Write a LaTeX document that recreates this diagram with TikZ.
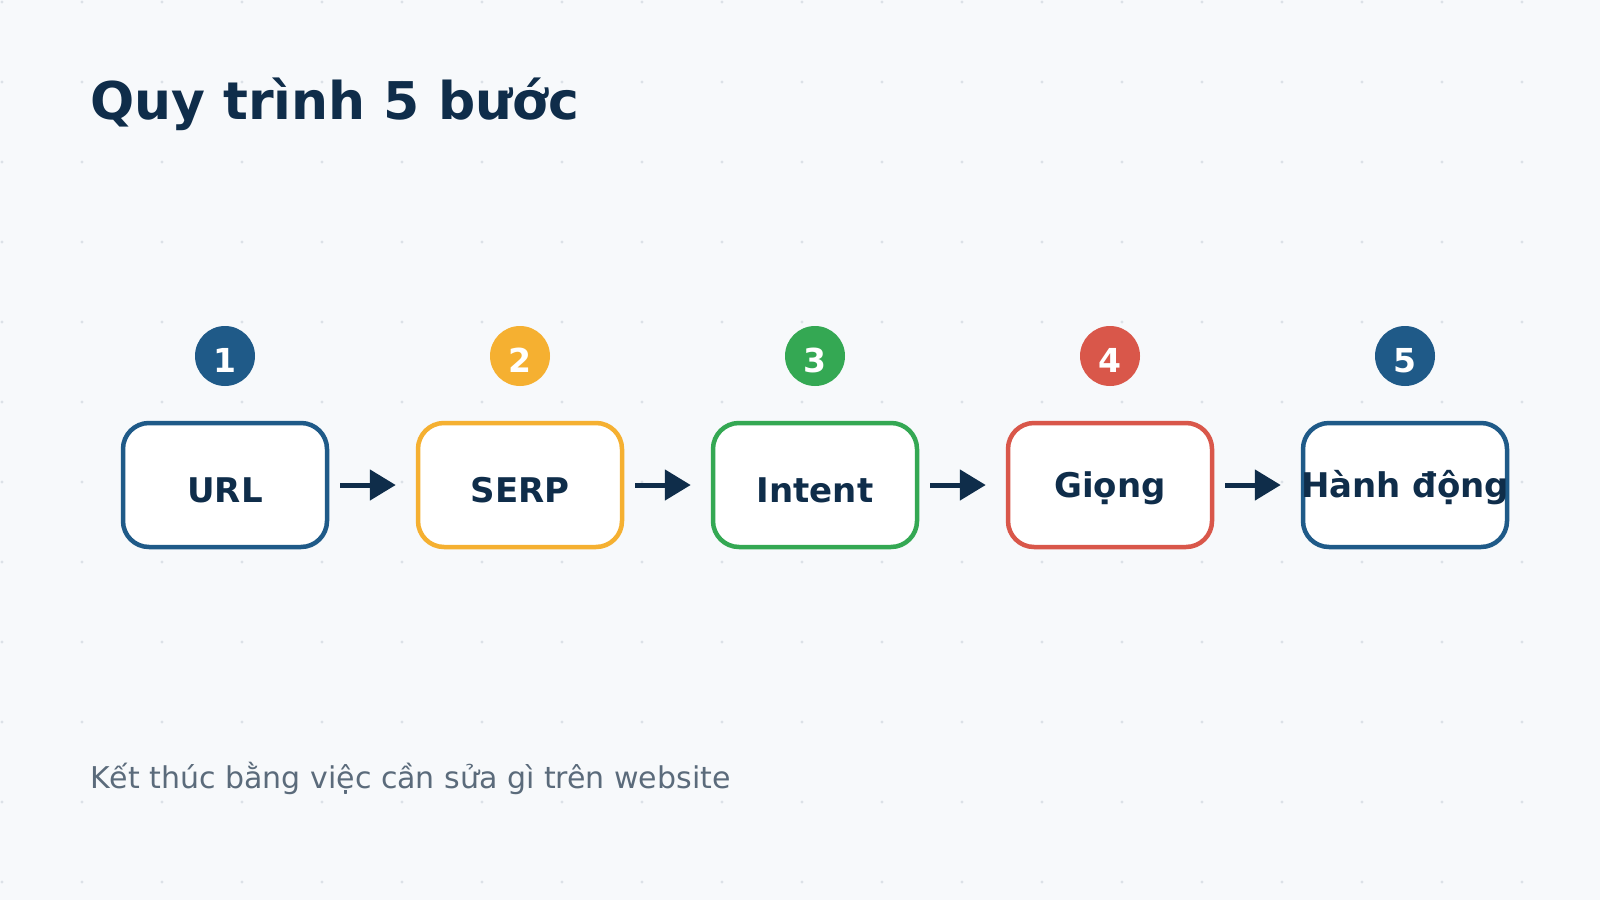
\documentclass[tikz,border=0pt]{standalone}
\usepackage{fontspec}
\setmainfont{DejaVu Sans}
\usetikzlibrary{arrows.meta}

\definecolor{bg}{HTML}{F7F9FB}
\definecolor{dotc}{HTML}{DCE1E7}
\definecolor{ink}{HTML}{0F2D4A}
\definecolor{muted}{HTML}{5B6B7B}
\definecolor{stepblue}{HTML}{1F5A88}
\definecolor{stepyellow}{HTML}{F5B031}
\definecolor{stepgreen}{HTML}{34A853}
\definecolor{stepred}{HTML}{D9574A}

\begin{document}
\begin{tikzpicture}[
    x=1pt, y=-1pt,
    stepbox/.style={
        draw=#1, line width=4.5pt, fill=white,
        rounded corners=26pt,
        minimum width=204pt, minimum height=124pt, inner sep=0pt,
        font=\fontsize{34}{40}\selectfont\bfseries, text=ink,
        text height=34pt, text depth=0pt
    },
    low/.style={text height=24pt},
    badge/.style={
        circle, fill=#1, minimum size=60pt, inner sep=0pt,
        font=\fontsize{33}{38}\selectfont\bfseries, text=white,
        text height=32pt, text depth=0pt
    },
    flow/.style={
        -{Triangle[length=26pt,width=30pt]}, line width=5pt, draw=ink,
        shorten <=11pt, shorten >=20pt
    }
    ]

    % background with dot grid
    \fill[bg] (0,0) rectangle (1600,900);
    \useasboundingbox (0,0) rectangle (1600,900);
    \foreach \i in {0,...,19}
        \foreach \j in {0,...,11}
            \fill[dotc] (2+80*\i,2+80*\j) circle (1.7pt);

    \node[anchor=base west, inner sep=0pt, text=ink,
        font=\fontsize{52}{60}\selectfont\bfseries] (title) at (90,119) {Quy trình 5 bước};

    % badges
    \node[badge=stepblue] (b1) at (225,356) {1};
    \node[badge=stepyellow] (b2) at (520,356) {2};
    \node[badge=stepgreen] (b3) at (815,356) {3};
    \node[badge=stepred] (b4) at (1110,356) {4};
    \node[badge=stepblue] (b5) at (1405,356) {5};

    % steps
    \node[stepbox=stepblue] (url) at (225,485) {URL};
    \node[stepbox=stepyellow] (serp) at (520,485) {SERP};
    \node[stepbox=stepgreen] (intent) at (815,485) {Intent};
    \node[stepbox=stepred, low] (giong) at (1110,485) {Giọng};
    \node[stepbox=stepblue, low] (action) at (1405,485) {\makebox[0pt]{Hành động}};

    \draw[flow] (url) -- (serp);
    \draw[flow] (serp) -- (intent);
    \draw[flow] (intent) -- (giong);
    \draw[flow] (giong) -- (action);

    \node[anchor=base west, inner sep=0pt, text=muted,
        font=\fontsize{30}{36}\selectfont] (note) at (90,788) {Kết thúc bằng việc cần sửa gì trên website};
\end{tikzpicture}
\end{document}
